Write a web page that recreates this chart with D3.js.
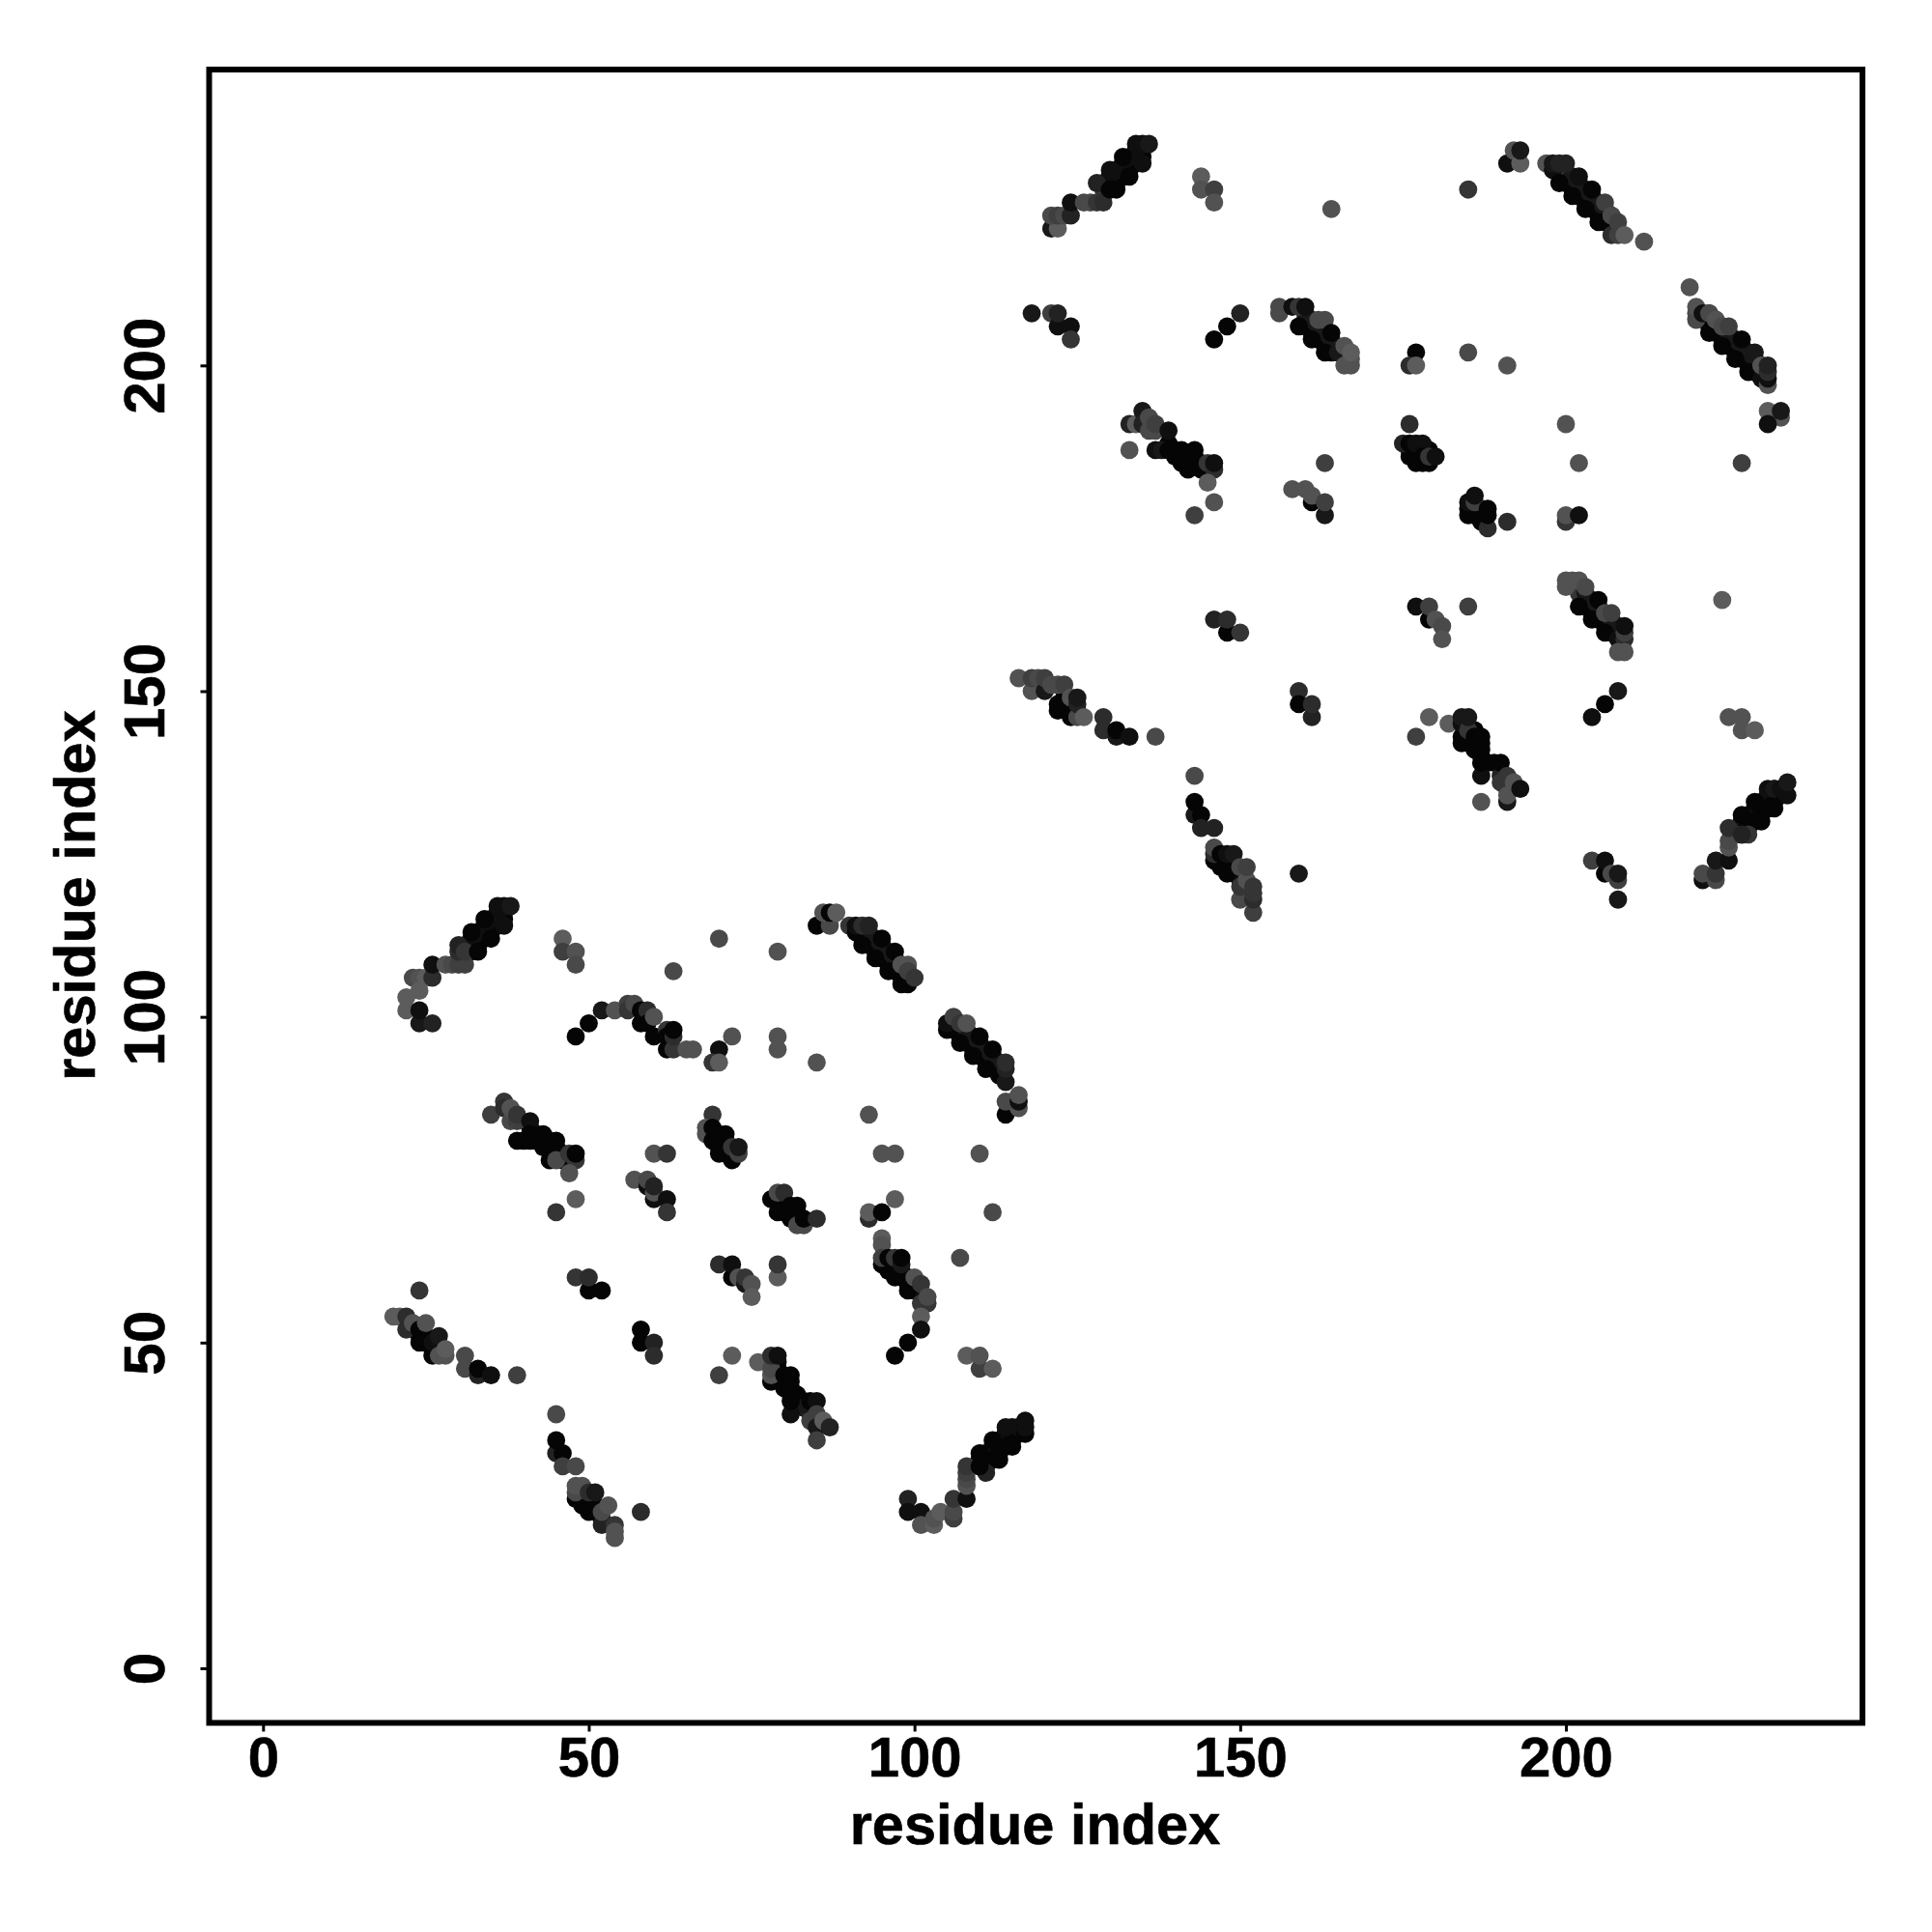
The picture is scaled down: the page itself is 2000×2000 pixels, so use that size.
<!DOCTYPE html>
<html><head><meta charset="utf-8">
<script src="https://cdn.jsdelivr.net/npm/d3@7/dist/d3.min.js"></script>
<style>html,body{margin:0;background:#fff}svg{display:block}text{font-family:"Liberation Sans",Arial,sans-serif;font-weight:700;fill:#000;stroke:#000;stroke-width:.6px}</style>
</head><body>
<script>
// Each contact: [residue i, residue j, score 0..9]
const tickValues=[0,50,100,150,200];
const axisTitle="residue index";
const bandA1=[[31,110,4],[32,111,4],[33,112,4],[34,113,4],[35,114,4],[36,115,4],[37,116,4],[32,110,9],[33,111,9],[34,112,9],[35,113,9],[36,114,9],[37,115,9],[31,111,8],[32,112,8],[33,113,8],[34,114,8],[35,115,8],[36,116,8]];
const bandA2=[[93,112,4],[94,111,4],[95,110,4],[96,109,4],[97,108,4],[98,107,4],[92,112,9],[93,111,9],[94,110,9],[95,109,9],[96,108,9],[97,107,9],[98,106,9],[93,113,7],[94,112,7],[95,111,7],[96,110,7],[97,109,7],[98,108,7]];
const bandA3=[[106,99,4],[107,98,4],[108,97,4],[109,96,4],[110,95,4],[111,94,4],[112,93,4],[113,92,4],[106,98,9],[107,97,9],[108,96,9],[109,95,9],[110,94,9],[111,93,9],[112,92,9],[107,99,7],[108,98,7],[109,97,7],[110,96,7],[111,95,7],[112,94,7],[113,93,7]];
const bandA12=[[110,31,4],[111,32,4],[112,33,4],[113,34,4],[114,35,4],[115,36,4],[116,37,4],[110,32,8],[111,33,8],[112,34,8],[113,35,8],[114,36,8],[115,37,8],[111,31,9],[112,32,9],[113,33,9],[114,34,9],[115,35,9],[116,36,9]];
const patchesA=[[25,50,9],[25,51,9],[24,51,9],[26,49,9],[49,25,9],[49,26,9],[50,25,9],[50,26,9],[51,24,9],[51,25,9],[52,23,8],[41,83,9],[42,82,9],[42,81,9],[43,82,9],[44,80,9],[44,81,9],[45,80,9],[46,79,9],[47,78,9],[70,81,9],[70,80,9],[71,81,9],[71,79,9],[72,79,9],[80,71,9],[80,70,9],[81,70,9],[82,70,9],[82,69,9],[79,46,9],[79,45,9],[79,47,9],[80,44,9],[81,44,9],[81,42,9],[82,42,9],[83,41,9],[82,41,9],[83,40,7],[84,39,6],[84,40,7],[96,62,9],[96,61,9],[97,62,9],[98,61,9],[98,60,9],[99,59,9],[99,60,9],[100,58,8],[100,59,8]];
const bandB1=[[129,227,4],[130,228,4],[131,229,4],[132,230,4],[133,231,4],[134,232,4],[135,233,4],[130,227,9],[131,228,9],[132,229,9],[133,230,9],[134,231,9],[135,232,9],[129,228,8],[130,229,8],[131,230,8],[132,231,8],[133,232,8],[134,233,8]];
const bandB12=[[200,229,4],[201,228,4],[202,227,4],[203,226,4],[204,225,4],[205,224,4],[206,223,4],[207,222,4],[200,228,9],[201,227,9],[202,226,9],[203,225,9],[204,224,9],[205,223,9],[206,222,9],[201,229,7],[202,228,7],[203,227,7],[204,226,7],[205,225,7],[206,224,7],[207,223,7]];
const bandB13=[[221,208,4],[222,207,4],[223,206,4],[224,205,4],[225,204,4],[226,203,4],[227,202,4],[228,201,4],[229,200,4],[222,206,9],[223,205,9],[224,204,9],[225,203,9],[226,202,9],[227,201,9],[228,200,9],[229,199,9],[222,208,7],[223,207,7],[224,206,7],[225,205,7],[226,204,7],[227,203,7],[228,202,7],[229,201,7],[230,200,7]];
const bandB3=[[160,207,4],[161,206,4],[162,205,4],[163,204,4],[164,203,4],[160,206,9],[161,205,9],[162,204,9],[163,203,9],[164,202,9],[160,208,7],[161,207,7],[162,206,7],[163,205,7],[164,204,7]];
const bandB10=[[202,165,4],[203,164,4],[204,163,4],[205,162,4],[206,161,4],[207,160,4],[208,159,4],[203,163,9],[204,162,9],[205,161,9],[206,160,9],[207,159,9],[203,165,7],[204,164,7],[205,163,7],[206,162,7],[207,161,7],[208,160,7]];
const bandB18=[[226,128,4],[227,129,4],[228,130,4],[229,131,4],[230,132,4],[231,133,4],[232,134,4],[233,135,4],[227,130,8],[228,131,8],[229,132,8],[230,133,8],[231,134,8],[232,135,8],[227,128,9],[228,129,9],[229,130,9],[230,131,9],[231,132,9],[232,133,9],[233,134,9]];
const patchesB=[[122,147,9],[123,149,9],[123,148,9],[124,147,9],[124,148,9],[125,147,9],[147,123,9],[147,124,9],[148,123,9],[148,124,9],[149,122,9],[149,123,9],[150,121,8],[150,122,8],[139,188,9],[140,187,9],[140,186,9],[141,185,9],[142,186,9],[142,185,9],[143,186,9],[144,185,9],[145,184,9],[176,187,9],[177,187,9],[177,186,9],[178,187,9],[178,185,9],[176,186,9],[179,187,9],[184,143,9],[185,142,9],[185,143,9],[186,142,9],[187,142,9],[187,140,9],[188,139,9],[189,139,9],[186,144,9],[190,137,6],[191,135,7],[186,177,9],[186,178,9],[187,177,9],[187,178,9]];
const strandA1=[[22,101,0],[22,103,0],[23,106,2],[24,106,1],[24,104,0],[24,99,7],[24,101,8],[26,99,6],[25,106,0],[26,106,5],[26,108,8],[28,108,1],[29,108,2],[30,108,3],[31,108,3],[30,110,5],[30,111,6],[31,110,4],[33,110,9],[32,113,9],[35,112,9],[34,115,9],[37,114,8],[36,117,8],[37,117,8],[38,117,7]];
const isolatedA1=[[46,112,0],[46,110,3],[48,110,1],[48,108,2],[63,107,2],[70,112,2],[79,110,1],[72,97,1],[70,95,8],[69,93,4],[70,93,0],[79,97,1],[79,95,1],[85,93,1],[93,85,1],[95,79,1],[97,79,1],[110,79,1],[112,70,2],[107,63,2],[97,72,0],[48,72,0],[45,70,4],[60,79,1],[62,79,4]];
const curveA=[[48,97,9],[50,99,9],[52,101,7],[54,101,1],[56,102,3],[56,101,4],[57,102,2],[58,99,9],[58,101,9],[59,101,5],[59,99,9],[60,97,9],[60,100,1],[62,95,9],[62,98,4],[62,97,9],[63,95,4],[63,97,5],[63,98,9],[65,95,1],[66,95,1]];
const strandA2=[[85,114,9],[87,114,2],[86,116,1],[87,116,9],[88,116,0],[90,114,4],[91,113,9],[91,114,8],[92,114,5],[93,114,6],[92,111,9],[94,109,9],[95,112,9],[96,107,9],[97,110,9],[98,105,9],[99,105,9],[98,108,1],[99,108,1],[99,107,3],[100,106,4]];
const strandA3=[[105,98,9],[105,99,8],[106,100,3],[107,96,9],[107,99,4],[108,99,1],[109,94,9],[110,97,9],[111,92,9],[112,95,9],[113,91,9],[114,90,7],[114,92,6],[114,93,5],[114,85,9],[115,87,1],[116,86,1],[114,87,2],[116,87,8],[116,88,1]];
const clusterA4=[[35,85,3],[37,87,4],[37,86,5],[38,84,2],[39,84,3],[38,86,1],[39,85,4],[41,84,8],[41,82,9],[39,81,9],[40,81,9],[41,81,9],[43,81,9],[43,80,9],[45,81,9],[44,78,9],[45,79,9],[46,78,9],[45,78,2],[47,79,4],[48,78,4],[48,79,9],[47,76,1]];
const clusterA5=[[57,75,1],[59,74,8],[59,75,2],[60,72,8],[60,73,1],[60,74,6],[62,72,8],[62,70,4]];
const clusterA6=[[69,85,4],[68,83,1],[68,82,1],[69,83,9],[69,81,9],[70,82,9],[71,82,9],[70,79,9],[71,80,9],[72,78,9],[72,80,4],[73,79,3],[73,80,7]];
const clusterA7=[[78,72,9],[79,70,9],[79,73,2],[80,73,5],[81,71,9],[82,71,9],[81,69,9],[82,68,2],[83,68,2],[83,69,9],[85,69,5]];
const clusterA8=[[93,69,5],[93,70,0],[95,70,9]];
const curveA9=[[95,66,0],[95,65,1],[95,62,9],[95,63,3],[96,63,9],[97,60,9],[97,63,4],[98,62,7],[98,63,9],[99,58,9],[100,60,1],[101,59,4],[101,56,4],[102,56,4],[102,57,2],[101,54,0],[101,52,8],[99,50,9],[97,48,9]];
const clusterA10=[[70,62,5],[72,60,9],[72,62,8],[73,60,1],[74,59,7],[74,60,4],[75,59,1],[75,57,0],[79,60,0],[79,62,4],[72,48,0],[70,45,3],[108,48,0],[110,46,3],[110,48,1],[112,46,0]];
const clusterA11=[[76,47,0],[78,44,9],[78,45,1],[78,46,2],[78,48,5],[79,48,8],[80,45,9],[81,45,9],[80,43,9],[81,43,9],[81,39,8],[81,41,9],[84,41,9],[85,41,8],[84,38,3],[85,39,3],[85,37,7],[86,38,0],[87,37,6],[85,35,3]];
const strandA12=[[99,26,6],[99,24,8],[101,24,8],[101,22,1],[103,22,0],[103,23,1],[104,24,0],[106,23,3],[106,24,2],[106,26,4],[108,26,8],[108,28,1],[108,29,2],[108,30,3],[108,31,4],[111,30,6],[110,31,9],[110,33,9],[113,32,9],[112,35,9],[115,34,9],[114,37,8],[116,37,8],[117,36,9],[117,37,8],[117,38,8]];
const clusterA13=[[24,58,4],[20,54,0],[21,54,0],[22,52,5],[22,54,5],[23,53,1],[24,50,9],[24,52,9],[25,53,1],[26,48,9],[26,50,8],[27,51,7],[27,48,1],[28,48,1],[28,49,0],[31,48,2],[31,46,2],[33,45,6],[33,46,9],[35,45,8],[39,45,3]];
const clusterA14=[[45,39,2],[45,33,6],[45,35,9],[46,33,9],[46,31,3],[48,31,2],[48,26,9],[48,27,2],[48,28,1],[49,28,1],[50,24,9],[50,27,5],[51,27,7],[52,22,6],[52,24,2],[53,25,1],[54,22,4],[54,20,1],[54,21,1],[58,24,5]];
const clusterA15=[[48,60,4],[50,58,9],[50,60,5],[52,58,9],[58,52,9],[58,50,9],[60,50,6],[60,48,5]];

const strandB1=[[121,221,7],[122,221,0],[121,223,2],[122,223,3],[123,223,2],[124,223,6],[124,225,8],[126,225,2],[127,225,2],[128,225,4],[129,225,5],[128,228,6],[130,227,9],[130,230,8],[131,227,9],[132,232,9],[133,229,9],[135,231,8],[134,234,8],[135,234,8],[136,234,7]];
const isolatedB1=[[144,229,0],[144,227,1],[146,227,3],[146,225,1],[164,224,1],[185,227,4],[185,202,2],[191,200,1],[200,191,1],[202,185,1],[227,185,3],[224,164,0],[159,122,7],[137,143,2],[143,137,2],[212,219,1],[219,212,1],[191,176,5],[185,163,3]];
const clusterB2=[[118,208,7],[121,208,3],[122,206,8],[122,208,6],[124,206,8],[124,204,4],[146,204,9],[148,206,9],[150,208,6]];
const strandB3=[[156,209,2],[156,208,2],[158,209,8],[159,206,9],[159,209,4],[160,209,8],[161,204,9],[162,207,2],[163,207,2],[163,202,9],[164,205,9],[165,202,7],[166,200,1],[167,200,1],[167,201,1],[166,203,1],[167,202,0]];
const clusterB4=[[133,191,6],[134,191,0],[133,187,1],[135,193,7],[135,191,6],[136,192,2],[136,190,2],[137,190,2],[137,191,3],[139,190,8],[137,187,8],[138,187,7],[139,187,9],[141,186,9],[141,187,9],[143,187,9],[142,184,9],[143,185,9],[144,184,9],[145,185,4],[146,184,5],[146,185,8],[145,182,0],[146,179,1],[143,177,3]];
const clusterB5=[[163,185,3],[158,181,1],[160,181,1],[161,179,9],[161,180,1],[163,177,7],[163,179,3]];
const clusterB6=[[176,191,5],[175,188,6],[176,188,9],[177,188,8],[178,188,8],[177,185,9],[178,186,9],[179,185,9],[179,186,4],[180,186,8]];
const clusterB7=[[177,202,9],[176,200,5],[177,200,0],[146,161,6],[148,159,9],[148,161,5],[150,159,4],[159,150,5],[159,148,9],[161,146,6],[161,148,5]];
const clusterB8=[[177,163,8],[179,161,9],[179,163,3],[180,161,1],[181,160,2],[181,158,1],[231,193,0],[233,192,1],[233,193,7],[231,191,8]];
const clusterB9=[[185,177,9],[185,178,9],[185,179,8],[186,179,3],[186,180,8],[187,176,9],[188,175,5],[188,177,9],[188,178,9],[200,176,4],[200,177,1],[202,177,8]];
const strandB10=[[200,166,1],[200,167,1],[201,167,1],[202,167,1],[202,163,9],[203,166,2],[204,161,9],[205,164,9],[206,159,9],[206,162,2],[207,162,3],[208,158,8],[209,158,5],[209,159,3],[209,160,8],[208,156,1],[209,156,1]];
const clusterB11=[[208,150,7],[206,148,9],[204,146,8],[179,146,0],[182,145,0],[177,143,3],[225,146,1],[227,146,1],[227,144,1],[229,144,0]];
const strandB12=[[191,231,8],[192,233,1],[193,231,0],[193,233,7],[197,231,1],[198,230,8],[198,231,7],[199,231,6],[200,231,6],[199,228,9],[201,226,9],[202,229,8],[203,224,9],[204,227,9],[205,222,9],[206,225,3],[207,220,5],[207,223,2],[208,220,3],[208,222,3],[209,220,0]];
const strandB13=[[220,207,2],[220,208,2],[220,209,1],[221,208,8],[222,205,9],[222,208,2],[223,207,1],[224,203,9],[224,206,2],[225,206,3],[226,201,9],[227,204,9],[228,199,9],[229,202,7],[230,198,8],[231,197,1],[231,198,8],[230,200,1],[231,199,5],[231,200,6]];
const clusterB14=[[116,152,1],[118,150,1],[118,152,3],[119,152,2],[120,150,7],[120,152,3],[121,151,2],[122,148,9],[122,151,2],[123,151,3],[124,146,9],[124,149,1],[125,146,2],[125,148,6],[125,149,7],[126,146,0],[129,144,5],[129,146,5],[131,143,7],[131,144,9],[133,143,8]];
const clusterB15=[[143,131,7],[143,133,9],[144,131,9],[144,129,6],[146,129,6],[146,124,9],[146,125,5],[146,126,2],[147,125,9],[148,122,9],[148,125,8],[149,125,7],[150,118,2],[150,120,4],[150,123,2],[151,121,1],[151,123,3],[152,116,3],[152,118,5],[152,119,4],[152,120,4]];
const clusterB16=[[184,142,9],[184,145,8],[184,146,7],[185,144,4],[185,146,7],[186,141,9],[186,143,9],[187,141,9],[187,143,9],[187,137,8],[187,139,9],[190,139,9],[187,133,1],[190,136,4],[191,133,7],[191,134,1],[191,137,4],[192,136,1],[193,135,8]];
const clusterB17=[[204,124,3],[206,122,9],[206,124,8],[207,122,2],[208,121,3],[208,122,7],[208,118,7]];
const strandB18=[[221,121,8],[221,122,2],[223,121,2],[223,122,4],[223,124,7],[225,124,8],[225,126,1],[225,127,2],[226,128,2],[225,129,5],[228,128,4],[227,128,6],[227,131,9],[230,130,9],[229,133,9],[232,132,9],[231,135,8],[232,135,7],[233,135,8],[234,134,8],[234,136,7]];

const contactGroups=[bandA1,bandA2,bandA3,bandA12,patchesA,bandB1,bandB12,bandB13,bandB3,bandB10,bandB18,patchesB,
 strandA1,isolatedA1,curveA,strandA2,strandA3,clusterA4,clusterA5,clusterA6,clusterA7,clusterA8,curveA9,clusterA10,clusterA11,strandA12,clusterA13,clusterA14,clusterA15,
 strandB1,isolatedB1,clusterB2,strandB3,clusterB4,clusterB5,clusterB6,clusterB7,clusterB8,clusterB9,strandB10,clusterB11,strandB12,strandB13,clusterB14,clusterB15,clusterB16,clusterB17,strandB18];

const W=2000,H=2000;
const frame={l:216.5,r:1928,t:72,b:1783.5};
const svg=d3.select("body").append("svg").attr("width",W).attr("height",H);
svg.append("rect").attr("width",W).attr("height",H).attr("fill","#fff");
const x=d3.scaleLinear().domain([0,200]).range([272.3,1621]);
const y=d3.scaleLinear().domain([0,200]).range([1727,378.3]);
const shade=d3.scaleLinear().domain([0,9]).range(["#5c5c5c","#050505"]);

svg.append("g").selectAll("circle").data(contactGroups.flat()).join("circle")
  .attr("cx",d=>x(d[0])).attr("cy",d=>y(d[1])).attr("r",9.4).attr("fill",d=>shade(d[2]));

svg.append("rect").attr("x",frame.l).attr("y",frame.t).attr("width",frame.r-frame.l).attr("height",frame.b-frame.t)
  .attr("fill","none").attr("stroke","#000").attr("stroke-width",6);

const gx=svg.append("g").attr("transform",`translate(0,${frame.b})`)
  .call(d3.axisBottom(x).tickValues(tickValues).tickSize(9).tickSizeOuter(0).tickPadding(0));
const gy=svg.append("g").attr("transform",`translate(${frame.l},0)`)
  .call(d3.axisLeft(y).tickValues(tickValues).tickSize(9).tickSizeOuter(0));
[gx,gy].forEach(g=>{g.select(".domain").remove();g.selectAll(".tick line").attr("stroke","#000").attr("stroke-width",3);});
gx.selectAll(".tick text").attr("y",55.5).attr("dy",null).attr("font-size",58).attr("font-family",null).attr("text-anchor","middle");
gy.selectAll(".tick text").each(function(d){
  d3.select(this).attr("x",null).attr("y",null).attr("dy",null).attr("font-size",60).attr("text-anchor","middle")
    .attr("transform",`translate(-46.5,0) rotate(-90)`);
});
svg.append("text").attr("x",1071.5).attr("y",1909).attr("font-size",59.5).attr("text-anchor","middle").text(axisTitle);
svg.append("text").attr("transform","translate(98,927) rotate(-90)").attr("font-size",59.5).attr("text-anchor","middle").text(axisTitle);
</script>
</body></html>
